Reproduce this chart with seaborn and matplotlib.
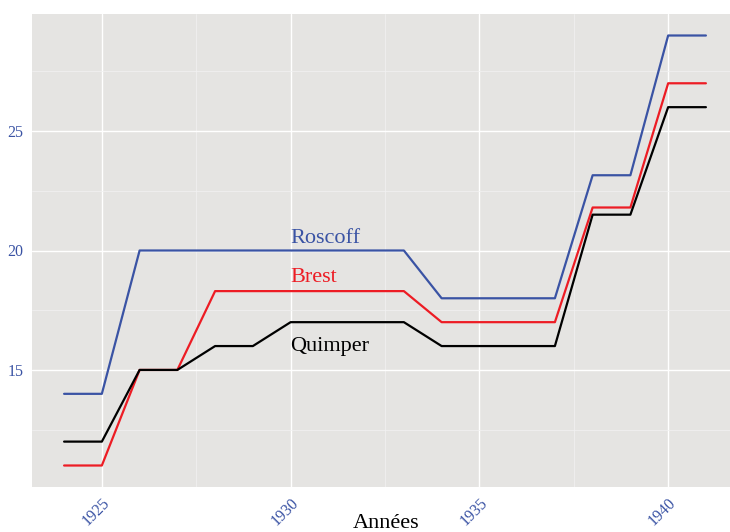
import numpy as np
import pandas as pd
import matplotlib.pyplot as plt
import seaborn as sns
from matplotlib.ticker import MultipleLocator

annees = list(range(1924, 1942))
roscoff = [14, 14, 20, 20, 20, 20, 20, 20, 20, 20, 18, 18, 18, 18, 23.15, 23.15, 29, 29]
brest = [11, 11, 15, 15, 18.3, 18.3, 18.3, 18.3, 18.3, 18.3, 17, 17, 17, 17, 21.8, 21.8, 27, 27]
quimper = [12, 12, 15, 15, 16, 16, 17, 17, 17, 17, 16, 16, 16, 16, 21.5, 21.5, 26, 26]

villes = ["Roscoff", "Brest", "Quimper"]
couleurs = {"Roscoff": "#3A53A4", "Brest": "#ED1C24", "Quimper": "#000000"}

df = pd.DataFrame({"Année": annees, "Roscoff": roscoff, "Brest": brest, "Quimper": quimper})
df = df.melt(id_vars="Année", var_name="Ville", value_name="Valeur")

sns.set_style("darkgrid")
plt.rcParams['font.family'] = ['Liberation Serif', 'DejaVu Serif']

fig = plt.figure(figsize=(7.30, 5.32), dpi=100)
ax = fig.add_axes([32/730, 45/532, 706/730, 473/532])
ax.set_facecolor("#E5E4E2")

sns.lineplot(data=df, x="Année", y="Valeur", hue="Ville", hue_order=villes,
             palette=couleurs, linewidth=1.6, ax=ax, legend=False)

# expansion façon ggplot (5 %)
x0, x1 = min(annees), max(annees)
ax.set_xlim(x0 - 0.05 * (x1 - x0), x1 + 0.05 * (x1 - x0))
allv = roscoff + brest + quimper
y0, y1 = min(allv), max(allv)
ax.set_ylim(y0 - 0.05 * (y1 - y0), y1 + 0.05 * (y1 - y0))

ax.xaxis.set_major_locator(MultipleLocator(5))
ax.xaxis.set_minor_locator(MultipleLocator(2.5))
ax.yaxis.set_major_locator(MultipleLocator(5))
ax.yaxis.set_minor_locator(MultipleLocator(2.5))
ax.grid(which="major", color="white", linewidth=1.0)
ax.grid(which="minor", color="#F2F2F2", linewidth=0.5)
for s in ax.spines.values():
    s.set_visible(False)

ax.tick_params(axis="both", which="major", length=4, width=0.8, color="#AAAAAA",
               labelcolor="#3A53A4", labelsize=11.5, pad=2)
ax.tick_params(which="minor", length=0)
plt.setp(ax.get_xticklabels(), rotation=45, ha="right", va="top", rotation_mode="anchor")

ax.set_ylabel("")
ax.set_xlabel("")
fig.text(386/730, 4/532, "Années", fontsize=16, color="black", ha="center", va="baseline")

ax.text(1930, 20.3, "Roscoff", color=couleurs["Roscoff"], fontsize=16, ha="left", va="baseline")
ax.text(1930, 18.7, "Brest", color=couleurs["Brest"], fontsize=16, ha="left", va="baseline")
ax.text(1930, 15.8, "Quimper", color=couleurs["Quimper"], fontsize=16, ha="left", va="baseline")

fig.savefig("out.png", dpi=100)
